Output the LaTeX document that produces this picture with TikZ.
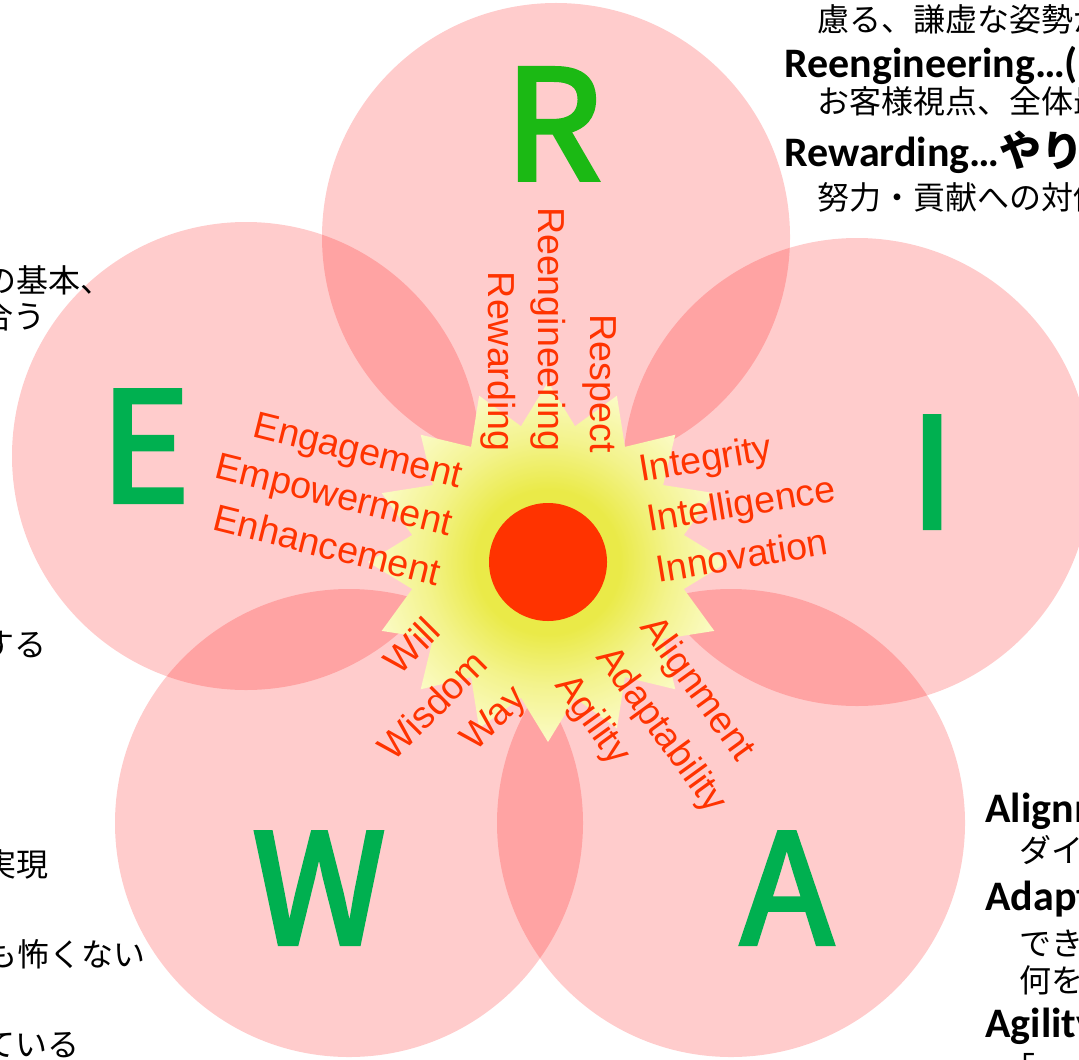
\documentclass[tikz,border=0pt]{standalone}
\usepackage{fontspec}
\setmainfont{Carlito}
\newfontfamily\jpfont{Noto Sans CJK JP}
\newfontfamily\bigfont{Noto Sans CJK JP}[FakeBold=3]
\newfontfamily\wordfont{Liberation Sans}
\usetikzlibrary{shapes.geometric, positioning}

\definecolor{petalred}{RGB}{255,0,0}
\definecolor{wordred}{RGB}{255,51,0}
\definecolor{rgreen}{RGB}{27,185,20}
\definecolor{lgreen}{RGB}{0,176,80}
\definecolor{sunhot}{RGB}{234,234,72}
\definecolor{sunmid}{RGB}{243,243,140}
\definecolor{sunpale}{RGB}{251,251,198}
\pgfdeclareradialshading{sunglow}{\pgfpoint{0bp}{0bp}}{color(0bp)=(sunhot); color(10bp)=(sunhot); color(17bp)=(sunmid); color(25bp)=(sunpale); color(50bp)=(sunpale)}

\tikzset{
  petal/.style={circle, fill=petalred, fill opacity=0.2, minimum size=234pt, inner sep=0},
  bigletter/.style={inner sep=0, font=\bigfont\fontsize{76}{76}\selectfont},
  word/.style={inner sep=0, text=wordred, font=\wordfont\fontsize{18.8}{18.8}\selectfont},
  jline/.style={inner sep=0, anchor=base west, font=\jpfont\fontsize{16}{16}\selectfont},
  bline/.style={inner sep=0, anchor=base west, font=\bfseries\fontsize{21}{21}\selectfont}
}

\begin{document}
\begin{tikzpicture}[x=0.5pt, y=-0.5pt]
\useasboundingbox (0,0) rectangle (1079,1059);

\path (556,237) node[petal] (pet-r) {};
\path (246,456) node[petal] (pet-e) {};
\path (857,472) node[petal] (pet-i) {};
\path (349,823) node[petal] (pet-w) {};
\path (731,823) node[petal] (pet-a) {};

\path (548,562) node[star, star points=16, star point ratio=1.3, minimum size=180pt,
	inner sep=0, shading=sunglow] (sun) {};
\path (sun.center) node[circle, fill=wordred, minimum size=59pt, inner sep=0] (core) {};

\path (553,124) node[bigletter, text=rgreen] (let-r) {R};
\path (145,446) node[bigletter, text=lgreen] (let-e) {E};
\path (932,472) node[bigletter, text=lgreen] (let-i) {I};
\path (319,888) node[bigletter, text=lgreen] (let-w) {W};
\path (787,888) node[bigletter, text=lgreen] (let-a) {A};

\path (590,453) node[word, rotate=-90, anchor=base east] (respect) {Respect};
\path (538,452) node[word, rotate=-90, anchor=base east] (reeng) {Reengineering};
\path (488,452) node[word, rotate=-90, anchor=base east] (reward) {Rewarding};

\path (459,488) node[word, rotate=-14, anchor=base east] (engage) {Engagement};
\path (449,536) node[word, rotate=-14, anchor=base east] (empower) {Empowerment};
\path (437,586) node[word, rotate=-14, anchor=base east] (enhance) {Enhancement};

\path (641,482) node[word, rotate=9.5, anchor=base west] (integ) {Integrity};
\path (649,532) node[word, rotate=9.5, anchor=base west] (intel) {Intelligence};
\path (658,583) node[word, rotate=9.5, anchor=base west] (innov) {Innovation};

\path (443,633) node[word, rotate=45, anchor=base east] (will) {Will};
\path (490,666) node[word, rotate=45, anchor=base east] (wisdom) {Wisdom};
\path (528,700) node[word, rotate=45, anchor=base east] (way) {Way};

\path (639,627) node[word, rotate=-54, anchor=base west] (align) {Alignment};
\path (595,657) node[word, rotate=-54, anchor=base west] (adapt) {Adaptability};
\path (554,685) node[word, rotate=-54, anchor=base west] (agile) {Agility};

\path (817,32) node[jline] (tr-1) {慮る、謙虚な姿勢が};
\path (784,78) node[bline] (tr-2) {Reengineering…(};
\path (817,114) node[jline] (tr-3) {お客様視点、全体最};
\path (784,167) node[bline] (tr-4) {Rewarding…{\jpfont やり}};
\path (817,209) node[jline] (tr-5) {努力・貢献への対価};

\path (-16,292) node[jline] (tl-1) {の基本、};
\path (-19,328) node[jline] (tl-2) {合う};
\path (-18,656) node[jline] (tl-3) {する};
\path (-16,876) node[jline] (tl-4) {実現};
\path (-15,966) node[jline] (tl-5) {も怖くない};
\path (-17,1056) node[jline] (tl-6) {ている};

\path (985,822) node[bline] (br-1) {Alignment…};
\path (1019,862) node[jline] (br-2) {ダイ};
\path (985,910) node[bline] (br-3) {Adaptability…};
\path (1019,955) node[jline] (br-4) {でき};
\path (1019,992) node[jline] (br-5) {何を};
\path (985,1037) node[bline] (br-6) {Agility…};
\path (1003,1080) node[jline] (br-7) {「};
\end{tikzpicture}
\end{document}
